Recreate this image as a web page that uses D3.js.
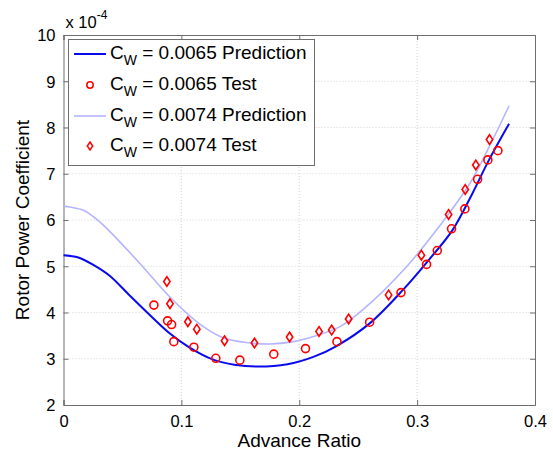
<!DOCTYPE html>
<html>
<head>
<meta charset="utf-8">
<script src="https://cdn.jsdelivr.net/npm/d3@7"></script>
<style>
  body { margin: 0; background: #fff; }
  svg text { font-family: "Liberation Sans", Arial, sans-serif; fill: #000; }
</style>
</head>
<body>
<div id="chart"></div>
<script>
// Prediction curves (advance ratio, power coefficient x 1e-4)
const pred65X = [0, 0.0126, 0.0253, 0.0394, 0.0564, 0.073, 0.09, 0.107, 0.127, 0.145, 0.165, 0.19, 0.212, 0.232, 0.26, 0.288, 0.31, 0.33, 0.347, 0.361, 0.378];
const pred65Y = [5.24, 5.19, 5.03, 4.79, 4.36, 3.95, 3.55, 3.24, 2.98, 2.87, 2.83, 2.88, 3.04, 3.28, 3.77, 4.49, 5.14, 5.78, 6.58, 7.3, 8.08];
const pred74X = [0, 0.0055, 0.0169, 0.028, 0.0394, 0.0648, 0.09, 0.1157, 0.135, 0.155, 0.175, 0.195, 0.212, 0.235, 0.254, 0.291, 0.319, 0.345, 0.364, 0.378];
const pred74Y = [6.3, 6.28, 6.21, 6.02, 5.75, 5.06, 4.34, 3.75, 3.46, 3.35, 3.32, 3.37, 3.48, 3.7, 4.06, 4.99, 5.87, 6.8, 7.73, 8.47];

// Test points
const test65X = [0.0767, 0.0883, 0.0917, 0.0936, 0.1106, 0.1292, 0.1496, 0.1784, 0.2053, 0.232, 0.2597, 0.2863, 0.308, 0.3171, 0.3292, 0.3405, 0.3513, 0.36, 0.3685];
const test65Y = [4.16, 3.82, 3.74, 3.37, 3.25, 3.01, 2.97, 3.10, 3.22, 3.37, 3.79, 4.43, 5.04, 5.34, 5.81, 6.24, 6.88, 7.30, 7.50];
const test74X = [0.0877, 0.0903, 0.1055, 0.1131, 0.1366, 0.162, 0.1918, 0.2168, 0.2275, 0.2419, 0.2758, 0.3036, 0.3267, 0.3408, 0.3498, 0.3614];
const test74Y = [4.67, 4.19, 3.80, 3.64, 3.39, 3.34, 3.47, 3.59, 3.62, 3.86, 4.38, 5.24, 6.12, 6.66, 7.19, 7.74];

const xTicks = [0, 0.1, 0.2, 0.3, 0.4];
const yTicks = [2, 3, 4, 5, 6, 7, 8, 9, 10];
const legendLabels = ["0.0065 Prediction", "0.0065 Test", "0.0074 Prediction", "0.0074 Test"];

const W = 553, H = 452;
const margin = { top: 35, right: 18, bottom: 47, left: 63.5 };
const width = W - margin.left - margin.right,
      height = H - margin.top - margin.bottom;

const svg = d3.select("#chart").append("svg")
    .attr("width", W).attr("height", H);
const g = svg.append("g").attr("transform", `translate(${margin.left},${margin.top})`);

const x = d3.scaleLinear().domain([0, 0.4]).range([0, width]);
const y = d3.scaleLinear().domain([2, 10]).range([height, 0]);

const axisColor = "#6e6e6e";

// grid
g.selectAll(".gx").data(xTicks.slice(1, -1)).enter().append("line")
    .attr("x1", d => x(d)).attr("x2", d => x(d)).attr("y1", 0).attr("y2", height)
    .attr("stroke", "#d4d4d4").attr("stroke-dasharray", "1,2");
g.selectAll(".gy").data(yTicks.slice(1, -1)).enter().append("line")
    .attr("x1", 0).attr("x2", width).attr("y1", d => y(d)).attr("y2", d => y(d))
    .attr("stroke", "#d4d4d4").attr("stroke-dasharray", "1,2");

// axes (inward ticks, box)
const fmtX = d => d === 0 ? "0" : d3.format(".1f")(d);
const axB = g.append("g").attr("transform", `translate(0,${height})`)
    .call(d3.axisBottom(x).tickValues(xTicks).tickSize(-5).tickPadding(10).tickFormat(fmtX));
const axT = g.append("g")
    .call(d3.axisTop(x).tickValues(xTicks).tickSize(-5).tickFormat(""));
const axL = g.append("g")
    .call(d3.axisLeft(y).tickValues(yTicks).tickSize(-5).tickPadding(8));
const axR = g.append("g").attr("transform", `translate(${width},0)`)
    .call(d3.axisRight(y).tickValues(yTicks).tickSize(-5).tickFormat(""));
[axB, axT, axL, axR].forEach(a => {
    a.select(".domain").attr("stroke", axisColor);
    a.selectAll(".tick line").attr("stroke", axisColor);
    a.selectAll("text").style("font-size", "16.5px").attr("fill", "#000");
});
axB.selectAll(".tick text").attr("dy", "0.71em");
axL.selectAll(".tick text").attr("dy", "0.36em");

// exponent
const ex = svg.append("text").attr("x", margin.left + 2).attr("y", 28).style("font-size", "16.5px");
ex.append("tspan").text("x 10");
ex.append("tspan").attr("dy", -9).style("font-size", "12px").text("-4");

// axis labels
svg.append("text").attr("x", margin.left + width / 2).attr("y", 447)
    .attr("text-anchor", "middle").style("font-size", "19px").text("Advance Ratio");
svg.append("text").attr("transform", `translate(29,${margin.top + height / 2}) rotate(-90)`)
    .attr("text-anchor", "middle").style("font-size", "19px").text("Rotor Power Coefficient");

// curves
const line = d3.line().x(d => x(d[0])).y(d => y(d[1])).curve(d3.curveCatmullRom);
g.append("path").datum(d3.zip(pred74X, pred74Y)).attr("d", line)
    .attr("fill", "none").attr("stroke", "#b4b4ff").attr("stroke-width", 1.6);
g.append("path").datum(d3.zip(pred65X, pred65Y)).attr("d", line)
    .attr("fill", "none").attr("stroke", "#0a0aee").attr("stroke-width", 2);

// markers
const diamond = "M0,-4.8L3.2,0L0,4.8L-3.2,0Z";
g.selectAll(".c65").data(d3.zip(test65X, test65Y)).enter().append("circle")
    .attr("cx", d => x(d[0])).attr("cy", d => y(d[1])).attr("r", 4)
    .attr("fill", "none").attr("stroke", "#ff0000").attr("stroke-width", 1.6);
g.selectAll(".d74").data(d3.zip(test74X, test74Y)).enter().append("path")
    .attr("d", diamond).attr("transform", d => `translate(${x(d[0])},${y(d[1])})`)
    .attr("fill", "none").attr("stroke", "#ff0000").attr("stroke-width", 1.6);

// legend
const lg = svg.append("g");
lg.append("rect").attr("x", 68.5).attr("y", 39.5).attr("width", 246).attr("height", 126)
    .attr("fill", "#fff").attr("stroke", axisColor);
const rowY = [54, 85, 116, 146];
legendLabels.forEach((lab, i) => {
    const yy = rowY[i];
    if (i === 0 || i === 2) {
        lg.append("line").attr("x1", 74).attr("x2", 106).attr("y1", yy).attr("y2", yy)
            .attr("stroke", i === 0 ? "#0a0aee" : "#b4b4ff").attr("stroke-width", i === 0 ? 2 : 1.6);
    } else if (i === 1) {
        lg.append("circle").attr("cx", 90).attr("cy", yy).attr("r", 3.2)
            .attr("fill", "none").attr("stroke", "#ff0000").attr("stroke-width", 1.5);
    } else {
        lg.append("path").attr("d", "M0,-4L2.7,0L0,4L-2.7,0Z").attr("transform", `translate(90,${yy})`)
            .attr("fill", "none").attr("stroke", "#ff0000").attr("stroke-width", 1.5);
    }
    const t = lg.append("text").attr("x", 110).attr("y", yy + 5).style("font-size", "19px");
    t.append("tspan").text("C");
    t.append("tspan").attr("dy", 6).style("font-size", "14px").text("W");
    t.append("tspan").attr("dy", -6).text(" = " + lab);
});
</script>
</body>
</html>
